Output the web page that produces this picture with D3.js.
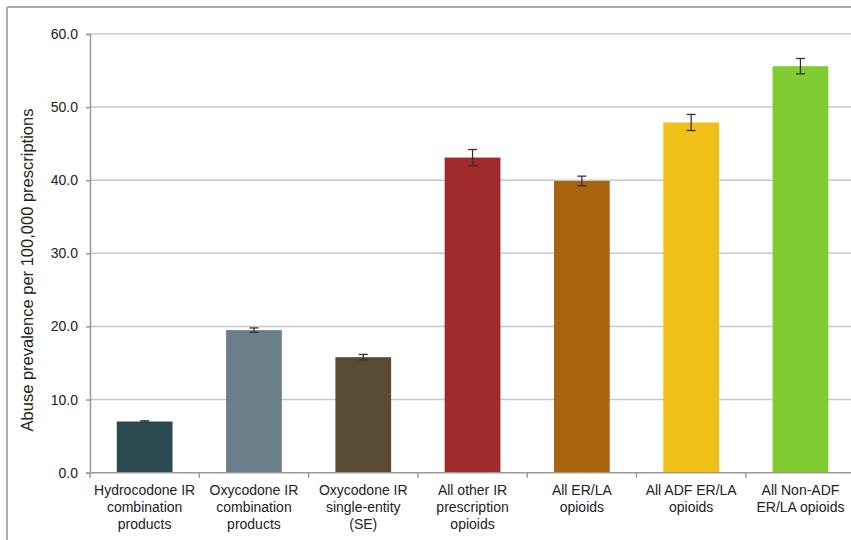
<!DOCTYPE html>
<html>
<head>
<meta charset="utf-8">
<script src="https://cdn.jsdelivr.net/npm/d3@7"></script>
<style>
  html, body { margin: 0; padding: 0; background: #fff; }
  svg { display: block; }
  text { font-family: "Liberation Sans", Arial, sans-serif; fill: #222; }
</style>
</head>
<body>
<svg id="chart" width="851" height="540"></svg>
<script>
const categories = [
  ["Hydrocodone IR", "combination", "products"],
  ["Oxycodone IR", "combination", "products"],
  ["Oxycodone IR", "single-entity", "(SE)"],
  ["All other IR", "prescription", "opioids"],
  ["All ER/LA", "opioids"],
  ["All ADF ER/LA", "opioids"],
  ["All Non-ADF", "ER/LA opioids"]
];
const values = [7.0, 19.5, 15.8, 43.1, 39.9, 47.9, 55.6];
const errors = [0.1, 0.3, 0.38, 1.1, 0.66, 1.1, 1.05];
const colors = ["#2a4a50", "#6a7f8a", "#5a4b35", "#a0292b", "#a8650f", "#f0c018", "#82cc33"];
const yTicks = [0, 10, 20, 30, 40, 50, 60];
const yLabel = "Abuse prevalence per 100,000 prescriptions";

(function () {
const svg = d3.select("#chart");
const mLeft = 90, mTop = 34, mBottom = 472.7, step = 109.3;
const mRight = mLeft + step * categories.length;

// outer frame
svg.append("line").attr("x1", 7).attr("x2", 851).attr("y1", 7).attr("y2", 7)
  .attr("stroke", "#aaa").attr("stroke-width", 2);
svg.append("line").attr("x1", 7).attr("x2", 7).attr("y1", 7).attr("y2", 540)
  .attr("stroke", "#aaa").attr("stroke-width", 2);

const x = d3.scaleBand().domain(d3.range(categories.length)).range([mLeft, mRight]).padding(0);
const y = d3.scaleLinear().domain([0, 60]).range([mBottom, mTop]);

// gridlines
svg.append("g").selectAll("line").data(yTicks.filter(d => d > 0)).join("line")
  .attr("x1", mLeft).attr("x2", mRight)
  .attr("y1", d => y(d)).attr("y2", d => y(d))
  .attr("stroke", "#c8c8c8").attr("stroke-width", 1.5);

// y axis
const yAxis = svg.append("g").attr("transform", `translate(${mLeft},0)`)
  .call(d3.axisLeft(y).tickValues(yTicks).tickFormat(d3.format(".1f")).tickSize(4).tickPadding(8));
yAxis.select(".domain").attr("stroke", "#999").attr("stroke-width", 1.5);
yAxis.selectAll(".tick line").attr("stroke", "#999").attr("stroke-width", 1.5);
yAxis.selectAll(".tick text").attr("font-size", 14).attr("fill", "#222")
  .attr("font-family", "Liberation Sans, Arial, sans-serif");

// bars
const bw = x.bandwidth() * 0.51;
svg.append("g").selectAll("rect").data(values).join("rect")
  .attr("x", (d, i) => x(i) + (x.bandwidth() - bw) / 2)
  .attr("width", bw)
  .attr("y", d => y(d))
  .attr("height", d => y(0) - y(d))
  .attr("fill", (d, i) => colors[i]);

// error bars
const eb = svg.append("g").attr("stroke", "#333").attr("stroke-width", 1.3);
values.forEach((v, i) => {
  const cx = x(i) + x.bandwidth() / 2;
  eb.append("line").attr("x1", cx).attr("x2", cx).attr("y1", y(v + errors[i])).attr("y2", y(v - errors[i]));
  eb.append("line").attr("x1", cx - 4.5).attr("x2", cx + 4.5).attr("y1", y(v + errors[i])).attr("y2", y(v + errors[i]));
  eb.append("line").attr("x1", cx - 4.5).attr("x2", cx + 4.5).attr("y1", y(v - errors[i])).attr("y2", y(v - errors[i]));
});

// x axis
svg.append("line").attr("x1", mLeft).attr("x2", mRight).attr("y1", y(0)).attr("y2", y(0))
  .attr("stroke", "#999").attr("stroke-width", 1.5);
svg.append("g").selectAll("line").data(d3.range(categories.length + 1)).join("line")
  .attr("x1", i => mLeft + i * x.step()).attr("x2", i => mLeft + i * x.step())
  .attr("y1", y(0)).attr("y2", y(0) + 5)
  .attr("stroke", "#999").attr("stroke-width", 1.5);

// category labels
const lab = svg.append("g");
categories.forEach((lines, i) => {
  const cx = x(i) + x.bandwidth() / 2;
  const t = lab.append("text").attr("text-anchor", "middle").attr("font-size", 14).attr("fill", "#222");
  lines.forEach((s, j) => {
    t.append("tspan").attr("x", cx).attr("y", 495 + j * 17).text(s);
  });
});

// y label
svg.append("text")
  .attr("transform", `translate(33,270) rotate(-90)`)
  .attr("text-anchor", "middle").attr("font-size", 16.5).attr("fill", "#222")
  .text(yLabel);
})();
</script>
</body>
</html>
